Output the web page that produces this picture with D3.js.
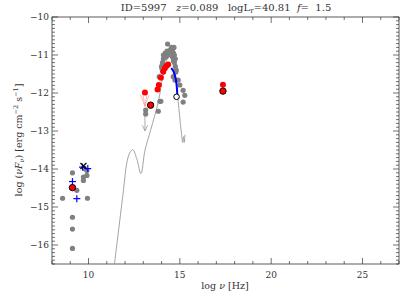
<!DOCTYPE html>
<html><head><meta charset="utf-8">
<script src="https://cdn.jsdelivr.net/npm/d3@7"></script>
<style>body{margin:0;background:#fff}svg text{font-family:"DejaVu Serif","Liberation Serif",serif;fill:#333}</style>
</head><body><svg id="c" width="415" height="297"></svg>
<script>
// ---- data ----
const grayX = [8.58,9.12,9.12,9.12,9.12,9.36,9.94,9.72,9.72,9.91,9.91,9.78,
  14.33,14.0,14.05,14.1,14.1,14.2,14.25,14.3,14.35,14.4,14.45,14.5,14.55,14.6,14.65,14.7,14.75,14.7,14.75,14.8,14.05,14.15,14.6,14.65,14.55,14.68,14.02,14.78,
  13.87,13.96,13.13,13.82,13.91,14.91,15.0,15.18,15.27,15.18,14.64,14.73,13.13];
const grayY = [-14.77,-14.10,-15.27,-15.58,-16.09,-14.56,-14.77,-14.21,-14.30,-14.17,-14.04,-13.99,
  -10.71,-11.3,-11.2,-11.1,-11.0,-10.95,-11.05,-10.9,-11.0,-10.95,-10.9,-10.85,-10.9,-10.85,-10.95,-11.0,-11.1,-11.2,-11.3,-11.4,-11.4,-11.3,-11.05,-11.15,-10.8,-10.8,-11.35,-11.45,
  -11.57,-12.22,-12.45,-12.48,-12.22,-11.66,-11.79,-11.93,-12.06,-12.24,-11.57,-11.66,-12.55];
const redX = [13.09,13.78,13.85,13.96,14.09,14.18,14.27,14.36,17.36];
const redY = [-11.99,-11.91,-11.79,-11.60,-11.44,-11.35,-11.29,-11.25,-11.78];
const redOutX = [9.12,13.40,17.36];
const redOutY = [-14.49,-12.32,-11.95];
const blueX = [9.12,9.36,9.67,9.96];
const blueY = [-14.33,-14.78,-13.95,-13.99];
const crossX = [9.72], crossY = [-13.92];
const openX = [14.82], openY = [-12.10];
const blueLineX = [14.52,14.62,14.72,14.80,14.84,14.86];
const blueLineY = [-11.35,-11.40,-11.52,-11.70,-11.88,-12.05];
const modelX = [11.42,11.91,12.09,12.25,12.42,12.64,12.87,13.09,13.4,13.82,14.1,14.4,14.6,14.75,14.91,15.05,15.1,15.15,15.2,15.24,15.28];
const modelY = [-16.5,-14.57,-13.86,-13.58,-13.49,-13.73,-14.12,-13.51,-12.98,-12.23,-11.5,-11.0,-11.05,-11.5,-12.23,-12.9,-13.1,-13.3,-13.15,-13.3,-13.1];
const xTicks = [10,15,20,25];
const yTicks = [-10,-11,-12,-13,-14,-15,-16];

// ---- layout ----
const svg = d3.select("#c");
const L=52, R=399, T=17, B=264;
const x = d3.scaleLinear().domain([8,27]).range([L,R]);
const y = d3.scaleLinear().domain([-16.5,-10]).range([B,T]);
const axc = "#333";

// frame
svg.append("rect").attr("x",L).attr("y",T).attr("width",R-L).attr("height",B-T)
  .attr("fill","none").attr("stroke",axc).attr("stroke-width",0.8);

// ticks
const g = svg.append("g").attr("stroke",axc).attr("stroke-width",0.7);
d3.range(8,28,1).forEach(v=>{
  const len = (v%5===0)?6:3;
  g.append("line").attr("x1",x(v)).attr("x2",x(v)).attr("y1",B).attr("y2",B-len);
  g.append("line").attr("x1",x(v)).attr("x2",x(v)).attr("y1",T).attr("y2",T+len);
});
d3.range(-165,-99,1).forEach(k=>{
  const v=k/10; const len = (k%10===0)?6:3;
  g.append("line").attr("x1",L).attr("x2",L+len).attr("y1",y(v)).attr("y2",y(v));
  g.append("line").attr("x1",R).attr("x2",R-len).attr("y1",y(v)).attr("y2",y(v));
});
xTicks.forEach(v=>svg.append("text").attr("x",x(v)).attr("y",B+14).attr("text-anchor","middle")
  .attr("font-size",9).text(v));
yTicks.forEach(v=>svg.append("text").attr("x",L-3).attr("y",y(v)+3).attr("text-anchor","end")
  .attr("font-size",9).text("\u2212"+Math.abs(v)));

// labels
svg.append("text").attr("x",225).attr("y",289).attr("text-anchor","middle").attr("font-size",9.5)
  .html('log <tspan font-style="italic">ν</tspan> [Hz]');
svg.append("text").attr("transform","translate(22,140) rotate(-90)").attr("text-anchor","middle").attr("font-size",9.5)
  .html('log (<tspan font-style="italic">νF</tspan><tspan font-size="6.5" dy="2" font-style="italic">ν</tspan><tspan dy="-2">) [erg cm</tspan><tspan font-size="6.5" dy="-4">−2</tspan><tspan dy="4"> s</tspan><tspan font-size="6.5" dy="-4">−1</tspan><tspan dy="4">]</tspan>');
svg.append("text").attr("x",226).attr("y",11).attr("text-anchor","middle").attr("font-size",10)
  .attr("xml:space","preserve")
  .html('ID=5997   <tspan font-style="italic">z</tspan>=0.089   logL<tspan font-size="7" dy="2">r</tspan><tspan dy="-2">=40.81  </tspan><tspan font-style="italic">f</tspan>=  1.5');

// model curve
svg.append("path").datum(modelX.map((v,i)=>[v,modelY[i]]))
  .attr("d",d3.line().x(d=>x(d[0])).y(d=>y(d[1])).curve(d3.curveCatmullRom))
  .attr("fill","none").attr("stroke","#999").attr("stroke-width",0.9);

// gray arrow (upper limit)
const ga = svg.append("g").attr("stroke","#999").attr("stroke-width",0.8);
ga.append("line").attr("x1",x(13.09)).attr("x2",x(13.09)).attr("y1",y(-12.45)).attr("y2",y(-13.0));
ga.append("line").attr("x1",x(12.95)).attr("x2",x(13.09)).attr("y1",y(-12.85)).attr("y2",y(-13.0));
ga.append("line").attr("x1",x(13.23)).attr("x2",x(13.09)).attr("y1",y(-12.85)).attr("y2",y(-13.0));
// red faint arrow lines
const ra = svg.append("g").attr("stroke","#f88").attr("stroke-width",0.6);
[[12.85,-12.05],[12.97,-12.02],[13.2,-12.02],[13.32,-12.05]].forEach(d=>{
  ra.append("line").attr("x1",x(d[0])).attr("y1",y(d[1])).attr("x2",x(13.09)).attr("y2",y(-12.35));
});

// gray points
svg.append("g").selectAll("circle").data(grayX.map((v,i)=>[v,grayY[i]])).join("circle")
  .attr("cx",d=>x(d[0])).attr("cy",d=>y(d[1])).attr("r",2.6).attr("fill","#808080");

// blue line
svg.append("path").datum(blueLineX.map((v,i)=>[v,blueLineY[i]]))
  .attr("d",d3.line().x(d=>x(d[0])).y(d=>y(d[1])).curve(d3.curveCatmullRom))
  .attr("fill","none").attr("stroke","#0000ff").attr("stroke-width",2);

// red points
svg.append("g").selectAll("circle").data(redX.map((v,i)=>[v,redY[i]])).join("circle")
  .attr("cx",d=>x(d[0])).attr("cy",d=>y(d[1])).attr("r",3).attr("fill","#ff0000");
svg.append("g").selectAll("circle").data(redOutX.map((v,i)=>[v,redOutY[i]])).join("circle")
  .attr("cx",d=>x(d[0])).attr("cy",d=>y(d[1])).attr("r",3.2).attr("fill","#ff0000")
  .attr("stroke","#000").attr("stroke-width",1);
// open circle
svg.append("g").selectAll("circle").data(openX.map((v,i)=>[v,openY[i]])).join("circle")
  .attr("cx",d=>x(d[0])).attr("cy",d=>y(d[1])).attr("r",2.8).attr("fill","#fff")
  .attr("stroke","#000").attr("stroke-width",1);
// blue plus
const bp = svg.append("g").attr("stroke","#0000ff").attr("stroke-width",1.2);
blueX.forEach((v,i)=>{
  bp.append("line").attr("x1",x(v)-3.5).attr("x2",x(v)+3.5).attr("y1",y(blueY[i])).attr("y2",y(blueY[i]));
  bp.append("line").attr("x1",x(v)).attr("x2",x(v)).attr("y1",y(blueY[i])-3.5).attr("y2",y(blueY[i])+3.5);
});
// black cross
const bc = svg.append("g").attr("stroke","#000").attr("stroke-width",1.2);
crossX.forEach((v,i)=>{
  const cx=x(v), cy=y(crossY[i]);
  bc.append("line").attr("x1",cx-3).attr("x2",cx+3).attr("y1",cy-3).attr("y2",cy+3);
  bc.append("line").attr("x1",cx-3).attr("x2",cx+3).attr("y1",cy+3).attr("y2",cy-3);
});
</script></body></html>
